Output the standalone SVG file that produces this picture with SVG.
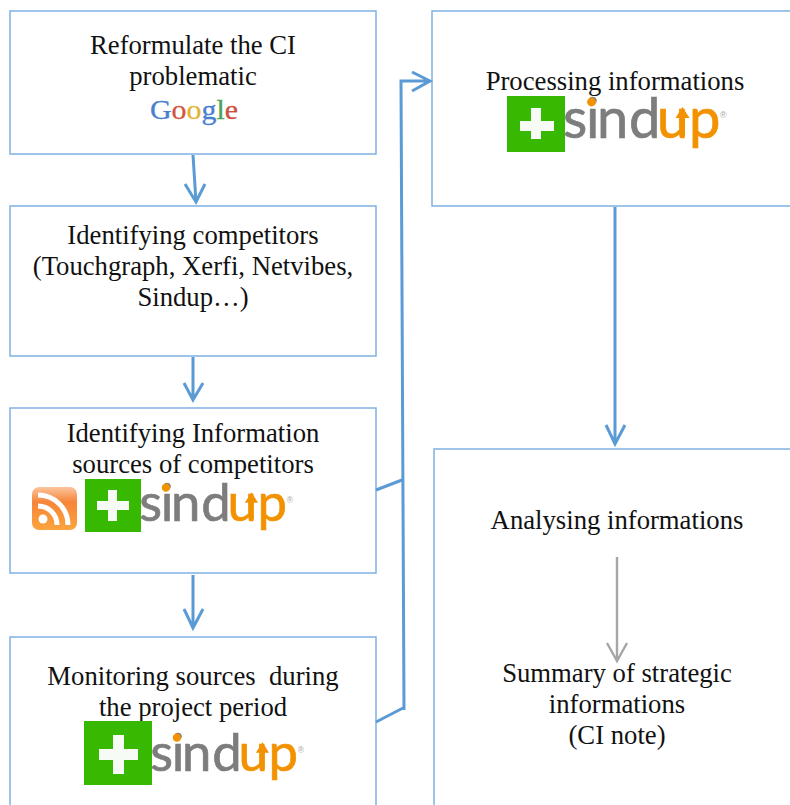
<svg xmlns="http://www.w3.org/2000/svg" width="790" height="805" viewBox="0 0 790 805">
<style>
.box{fill:#fff;stroke:#7fb1e3;stroke-width:1.5}
.t{font-family:"Liberation Serif","Times New Roman",serif;font-size:26.7px;fill:#111;text-anchor:middle}
.c{fill:none;stroke:#5b9bd5;stroke-width:3}
.g{fill:none;stroke:#a6a6a6;stroke-width:2.4}
.sq{fill:#36b900}
.pl{fill:#f7fbf5}
.sd{font-family:"Lato","Open Sans",sans-serif;font-size:56px;fill:#7d7d7d;stroke:#7d7d7d;stroke-width:.7}
.up{font-family:"Lato","Open Sans",sans-serif;font-size:56px;fill:#f39200;stroke:#f39200;stroke-width:.7}
.reg{font-family:"Liberation Sans",sans-serif;font-size:9px;fill:#a8a8a8}
.gg{font-family:"Liberation Serif",serif;font-size:27px;stroke-width:.3}
</style>
<defs>
<linearGradient id="rss" x1="0" y1="0" x2="0" y2="1">
<stop offset="0" stop-color="#fcc49c"/><stop offset=".35" stop-color="#f6853a"/><stop offset="1" stop-color="#fba43c"/>
</linearGradient>
<g id="word">
<text class="sd" x="-2 21 32 64" y="42">sind</text>
<text class="up" x="92" y="42">u</text>
<polygon points="117.500,11 124.500,22 120,22 120,40 115,40 115,22 110.500,22" fill="#f39200"/>
<text class="up" x="124" y="42">p</text>
<circle cx="26.500" cy="6" r="4.400" fill="#f39200"/>
<text class="reg" x="155" y="22">®</text>
</g>
</defs>
<g id="n1">
<rect class="box" x="10" y="11" width="366" height="143"/>
<text class="t" x="193" y="54">Reformulate the CI</text>
<text class="t" x="193" y="85">problematic</text>
<text class="gg" x="150" y="119" textLength="88" lengthAdjust="spacingAndGlyphs"><tspan fill="#4a7fd0" stroke="#4a7fd0">G</tspan><tspan fill="#d2563f" stroke="#d2563f">o</tspan><tspan fill="#e3b432" stroke="#e3b432">o</tspan><tspan fill="#4a7fd0" stroke="#4a7fd0">g</tspan><tspan fill="#4fa24f" stroke="#4fa24f">l</tspan><tspan fill="#cc5040" stroke="#cc5040">e</tspan></text>
</g>
<g id="n2">
<rect class="box" x="10" y="206" width="366" height="150"/>
<text class="t" x="193" y="244">Identifying competitors</text>
<text class="t" x="193" y="275">(Touchgraph, Xerfi, Netvibes,</text>
<text class="t" x="193" y="306">Sindup…)</text>
</g>
<g id="n3">
<rect class="box" x="10" y="408" width="366" height="165"/>
<text class="t" x="193" y="442">Identifying Information</text>
<text class="t" x="193" y="473">sources of competitors</text>
<rect x="32" y="487" width="45" height="43" rx="7" fill="url(#rss)"/>
<circle cx="43" cy="519" r="4.500" fill="#fff"/>
<path d="M38 506A19 19 0 0 1 57 525M38 495A30 30 0 0 1 68 525" fill="none" stroke="#fff" stroke-width="5"/>
<rect class="sq" x="85" y="479" width="56" height="53"/>
<path class="pl" d="M108 490h9v11h12v9h-12v11h-9v-11h-11v-9h11z"/>
<use href="#word" transform="translate(141 482) scale(.94)"/>
</g>
<g id="n4">
<rect class="box" x="10" y="637" width="366" height="170"/>
<text class="t" x="193" y="685" xml:space="preserve">Monitoring sources  during</text>
<text class="t" x="193" y="716">the project period</text>
<rect class="sq" x="84" y="721" width="68" height="64"/>
<path class="pl" d="M113 735h11v14h14v11h-14v14h-11v-14h-14v-11h14z"/>
<use href="#word" transform="translate(152 732) scale(.94)"/>
</g>
<g id="n5">
<rect class="box" x="432" y="11" width="360" height="195"/>
<text class="t" x="615" y="90">Processing informations</text>
<rect class="sq" x="507" y="96" width="58" height="56"/>
<path class="pl" d="M531 108h10v13h13v10h-13v8h-10v-8h-11v-10h11z"/>
<use href="#word" transform="translate(565 96)"/>
</g>
<g id="n6">
<rect class="box" x="434" y="449" width="360" height="358"/>
<text class="t" x="617" y="529">Analysing informations</text>
<text class="t" x="617" y="682">Summary of strategic</text>
<text class="t" x="617" y="713">informations</text>
<text class="t" x="617" y="744">(CI note)</text>
</g>
<g id="connectors">
<path class="c" d="M193 155L196 202M185 184L196 202L205 184"/>
<path class="c" d="M193 357V400M184 383L193 400L203 383"/>
<path class="c" d="M193 575V628M184 609L193 628L203 609"/>
<path class="c" d="M376 490L402 480M376 722L403 708M404 710L401 81H430M412 72L430 81L412 91"/>
<path class="c" d="M615 207V444M606 425L615 444L625 425"/>
<path class="g" d="M617 557V661M607 643L617 661L627 643"/>
</g>
</svg>
